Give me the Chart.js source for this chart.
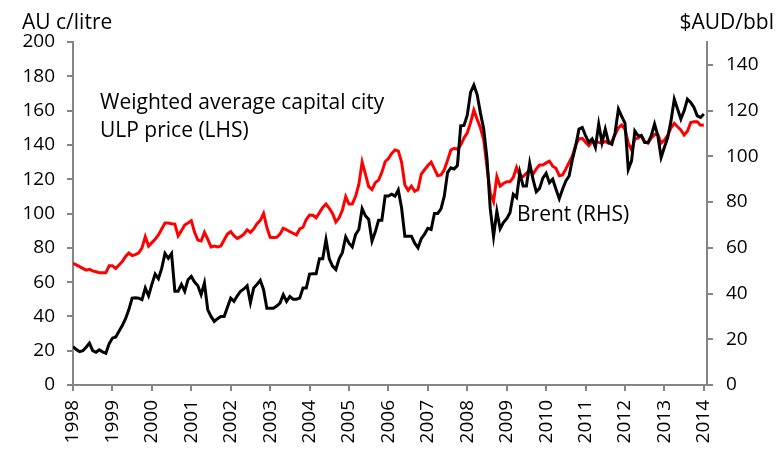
<!DOCTYPE html>
<html>
<head>
<meta charset="utf-8">
<script src="https://cdn.jsdelivr.net/npm/chart.js@4.4.1/dist/chart.umd.min.js"></script>
<style>
    html, body { margin: 0; padding: 0; background: #fff; }
    canvas { display: block; }
</style>
</head>
<body>
<canvas id="grafico" width="778" height="451"></canvas>
<script>
// monthly data, Jan 1998 to Jan 2014
const startYear = 1998;
const yearTicks = [1998, 1999, 2000, 2001, 2002, 2003, 2004, 2005, 2006, 2007, 2008, 2009, 2010, 2011, 2012, 2013, 2014];

// Weighted average capital city ULP price, AU c/litre (LHS)
const ulpPrice = [
    71, 70, 69, 68, 67, 67.5, 66.5, 66, 65.5, 65.5,
    65.5, 69.5, 69.5, 68, 70, 72, 75, 77, 75.5, 76,
    77, 80, 86.5, 81, 83, 85, 87.5, 91, 94.5, 94.5,
    94, 93.8, 87, 90, 93.3, 94.5, 95.8, 89, 84.5, 84,
    89, 85, 80.5, 81, 80.5, 81, 84.5, 88, 89.4, 87,
    85.5, 86.5, 88, 90.5, 89, 91, 94, 96, 100, 92,
    86.1, 86, 86.1, 88, 91.4, 90.5, 89.4, 88.5, 87.5, 91,
    92, 96.5, 99.1, 99, 97.5, 100.5, 103.5, 105.5, 103, 100,
    95, 97.5, 102, 109.8, 105.5, 105.5, 110, 117, 130, 123,
    115.6, 114, 118, 119.5, 124, 130.2, 132, 135, 137, 136.5,
    130, 116.6, 113.5, 116, 113, 114, 123, 125.5, 128, 130,
    126, 122, 122.5, 125.5, 131, 137, 138, 137.5, 140, 144,
    147, 153, 160.3, 155, 150, 143, 127, 112, 106.9, 121.5,
    116, 117.5, 118.5, 118.5, 121, 126.9, 122, 121.5, 123.5, 125.4,
    123, 126, 128.3, 128.3, 129.5, 130.5, 127.6, 126.4, 122, 122.5,
    126, 129.7, 133.5, 140, 143.5, 143.8, 141.5, 139.5, 142, 142.1,
    141.5, 141, 142, 141, 142, 146, 150, 151.6, 149, 141,
    137, 143.5, 144, 145.5, 142, 141, 144, 146, 146, 141,
    142.8, 145.5, 150, 152.6, 150.6, 148.7, 145.8, 148, 153, 153.5,
    153.5, 151.5, 151.6
];

// Brent, $AUD/bbl (RHS)
const brentPrice = [
    16.8, 15.5, 14.6, 15, 16.5, 18.3, 15, 14.3, 15.4, 14.5,
    13.9, 18, 20.5, 21, 23.5, 26, 29, 33, 38, 38.2,
    38, 37.3, 42.4, 39, 44, 48.5, 46.5, 51, 57.5, 55.4,
    57.5, 41, 41, 44, 41, 46, 47.5, 45, 43.4, 39.5,
    44.6, 33, 30, 27.8, 29, 30, 30, 34, 38, 36.6,
    39, 41, 42, 43.4, 36, 42.4, 44, 45.8, 41.7, 33.6,
    33.6, 33.6, 34.5, 35.8, 39.5, 36.5, 38.7, 37.5, 37.5, 38,
    42.4, 42.4, 48.5, 48.7, 48.7, 55.2, 55.2, 63.6, 55.2, 52,
    50.5, 55.2, 58, 64.8, 62, 60.4, 65.8, 68, 77.1, 74,
    72.4, 62.9, 67, 72.1, 72.1, 82.6, 82.6, 83.4, 82.6, 85.3,
    77.5, 65.1, 65.1, 65.1, 62, 60, 64, 66, 68.5, 68,
    75, 75, 77, 82.6, 92.9, 95, 94.5, 96, 113.3, 113.5,
    118, 128, 131.2, 127, 119, 112, 99, 77, 65, 76,
    68.3, 71, 72.7, 75.3, 83.4, 82, 92.9, 87, 87, 97,
    90, 84.5, 86, 90.5, 92.6, 88.5, 90, 85.6, 81.5, 85.6,
    89.2, 91.4, 98.7, 104.6, 111.9, 112.6, 109, 106.1, 107.6, 103.9,
    114.1, 106, 111.9, 106.1, 105.3, 110.4, 120.7, 117.5, 114.5, 94.3,
    98, 111.1, 109, 109, 106, 106, 109, 114.1, 109, 99.5,
    104, 108.2, 115.5, 125, 120.7, 116.3, 119.9, 125, 123.6, 121.4,
    117.7, 117, 118.5
];

const leftTicks = [0, 20, 40, 60, 80, 100, 120, 140, 160, 180, 200];
const rightTicks = [0, 20, 40, 60, 80, 100, 120, 140];

const leftTitle = 'AU c/litre';
const rightTitle = '$AUD/bbl';
const ulpLabel = ['Weighted average capital city', 'ULP price (LHS)'];
const brentLabel = 'Brent (RHS)';

document.addEventListener("DOMContentLoaded", function () {
    const fonte = '"Open Sans", "DejaVu Sans", sans-serif';
    const corEixo = '#858585';

    const toPoints = (arr) => arr.map((v, i) => ({ x: startYear + i / 12, y: v }));

    // text drawn straight on the canvas
    const textos = {
        id: 'textos',
        afterDraw(chart) {
            const ctx = chart.ctx;
            ctx.save();
            ctx.fillStyle = '#000';
            ctx.font = '21px ' + fonte;
            ctx.textBaseline = 'alphabetic';
            ctx.textAlign = 'left';
            ctx.fillText(leftTitle, 22, 29);
            ctx.fillText(ulpLabel[0], 100, 109);
            ctx.fillText(ulpLabel[1], 100, 137);
            ctx.fillText(brentLabel, 517, 221);
            ctx.textAlign = 'right';
            ctx.fillText(rightTitle, 774, 29);
            ctx.restore();
        }
    };

    const eixoY = (ticksList, max, pad, width) => ({
        type: 'linear',
        min: 0,
        max: max,
        afterBuildTicks: (scale) => { scale.ticks = ticksList.map(v => ({ value: v })); },
        afterFit: (scale) => { scale.width = width; },
        ticks: { color: '#000', padding: pad, font: { family: fonte, size: 19 } },
        grid: { drawOnChartArea: false, tickLength: 6, color: corEixo, lineWidth: 2 },
        border: { color: corEixo, width: 2 }
    });

    new Chart(document.getElementById('grafico'), {
        type: 'line',
        data: {
            datasets: [
                { label: brentLabel, data: toPoints(brentPrice), yAxisID: 'y1', borderColor: '#000', borderWidth: 3, pointRadius: 0, tension: 0 },
                { label: ulpLabel.join(' '), data: toPoints(ulpPrice), yAxisID: 'y', borderColor: '#ff0000', borderWidth: 3, pointRadius: 0, tension: 0 }
            ]
        },
        options: {
            responsive: false,
            devicePixelRatio: 1,
            animation: false,
            layout: { padding: { top: 42, left: 0, right: 0, bottom: 0 } },
            plugins: { legend: { display: false }, tooltip: { enabled: false } },
            scales: {
                x: {
                    type: 'linear',
                    min: 1998,
                    max: 2014.08,
                    afterBuildTicks: (scale) => { scale.ticks = yearTicks.map(v => ({ value: v })); },
                    afterFit: (scale) => { scale.height = 66; },
                    ticks: {
                        color: '#000', padding: 9, autoSkip: false,
                        minRotation: 90, maxRotation: 90,
                        font: { family: fonte, size: 19 },
                        callback: (v) => String(v)
                    },
                    grid: { drawOnChartArea: false, tickLength: 6, color: corEixo, lineWidth: 2 },
                    border: { color: corEixo, width: 2 }
                },
                y: Object.assign(eixoY(leftTicks, 200, 12, 73), { position: 'left' }),
                y1: Object.assign(eixoY(rightTicks, 150, 13, 71), { position: 'right' })
            }
        },
        plugins: [textos]
    });
});
</script>
</body>
</html>
